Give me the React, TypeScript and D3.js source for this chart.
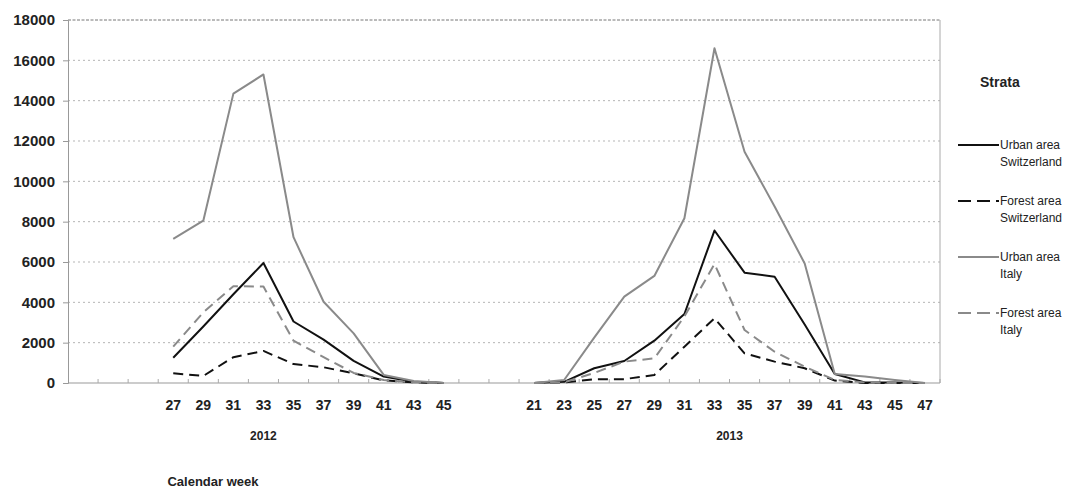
import React, { useRef, useEffect } from 'react';
import * as d3 from 'd3';

// calendar weeks shown per season
const weeks2012 = ['27', '29', '31', '33', '35', '37', '39', '41', '43', '45'];
const weeks2013 = ['21', '23', '25', '27', '29', '31', '33', '35', '37', '39', '41', '43', '45', '47'];

// blank slots on the category axis (no label)
const blanksBefore2012 = ['gap-a', 'gap-b', 'gap-c'];
const blanksBetween = ['gap-d', 'gap-e'];

const yTicks = [0, 2000, 4000, 6000, 8000, 10000, 12000, 14000, 16000, 18000];

// 2012 values
const urbanCH2012 = [1250, 2800, 4400, 5950, 3050, 2150, 1100, 320, 60, 0];
const forestCH2012 = [480, 350, 1280, 1590, 940, 780, 480, 130, 30, 0];
const urbanIT2012 = [7150, 8050, 14350, 15300, 7230, 4030, 2460, 400, 100, 0];
const forestIT2012 = [1800, 3500, 4800, 4780, 2100, 1280, 500, 150, 30, 0];

// 2013 values
const urbanCH2013 = [0, 60, 730, 1090, 2100, 3420, 7560, 5470, 5270, 2900, 450, 30, 20, 0];
const forestCH2013 = [0, 30, 180, 190, 400, 1800, 3210, 1470, 1060, 730, 120, 0, 0, 0];
const urbanIT2013 = [0, 150, 2250, 4280, 5310, 8170, 16600, 11470, 8750, 5930, 450, 320, 150, 0];
const forestIT2013 = [0, 30, 500, 1060, 1220, 3300, 5900, 2630, 1550, 810, 150, 30, 0, 0];

const series = [
  { name: ['Urban area', 'Switzerland'], v2012: urbanCH2012, v2013: urbanCH2013, color: '#111', dash: null },
  { name: ['Forest area', 'Switzerland'], v2012: forestCH2012, v2013: forestCH2013, color: '#111', dash: '10,6' },
  { name: ['Urban area', 'Italy'], v2012: urbanIT2012, v2013: urbanIT2013, color: '#8a8a8a', dash: null },
  { name: ['Forest area', 'Italy'], v2012: forestIT2012, v2013: forestIT2013, color: '#8a8a8a', dash: '10,6' },
];

const W = 1068;
const H = 490;

const App = () => {
  const svgRef = useRef<SVGSVGElement>(null);

  useEffect(() => {
    document.body.style.margin = '0';
    const svg = d3.select(svgRef.current);
    svg.selectAll('*').remove();

    const font = '"Liberation Sans", Arial, sans-serif';
    const left = 68, right = 940, top = 20, bottom = 383;

    const k12 = weeks2012.map(w => '2012-' + w);
    const k13 = weeks2013.map(w => '2013-' + w);
    const domain = [...blanksBefore2012, ...k12, ...blanksBetween, ...k13];

    const x = d3.scaleBand().domain(domain).range([left, right]).padding(0);
    const y = d3.scaleLinear().domain([0, 18000]).range([bottom, top]);
    const bw = x.bandwidth();

    // gridlines
    svg.append('g')
      .selectAll('line')
      .data(yTicks.filter(d => d > 0 && d < 18000))
      .enter().append('line')
      .attr('x1', left).attr('x2', right)
      .attr('y1', d => y(d)).attr('y2', d => y(d))
      .attr('stroke', '#b5b5b5')
      .attr('stroke-dasharray', '2,3');

    // top border (dashed) and right border
    svg.append('line')
      .attr('x1', left).attr('x2', right).attr('y1', y(18000)).attr('y2', y(18000))
      .attr('stroke', '#777').attr('stroke-dasharray', '3,1.5');
    svg.append('line')
      .attr('x1', right).attr('x2', right).attr('y1', top).attr('y2', bottom)
      .attr('stroke', '#aaa');

    // y axis
    const yAxis = svg.append('g')
      .attr('transform', `translate(${left},0)`)
      .call(d3.axisLeft(y).tickValues(yTicks).tickSize(5).tickPadding(8).tickFormat(d3.format('d')));
    yAxis.select('.domain').attr('stroke', '#999');
    yAxis.selectAll('.tick line').attr('stroke', '#999');
    yAxis.selectAll('text')
      .attr('font-family', font).attr('font-size', 15).attr('font-weight', 'bold').attr('fill', '#222');

    // x axis: line, ticks at band boundaries pointing inward
    svg.append('line')
      .attr('x1', left).attr('x2', right).attr('y1', bottom).attr('y2', bottom)
      .attr('stroke', '#999');
    svg.append('g')
      .selectAll('line')
      .data(domain)
      .enter().append('line')
      .attr('x1', d => x(d) + bw).attr('x2', d => x(d) + bw)
      .attr('y1', bottom).attr('y2', bottom - 4)
      .attr('stroke', '#aaa');

    svg.append('g')
      .selectAll('text')
      .data(domain.filter(d => d.startsWith('20')))
      .enter().append('text')
      .attr('x', d => x(d) + bw / 2)
      .attr('y', 410)
      .attr('text-anchor', 'middle')
      .attr('font-family', font).attr('font-size', 14).attr('font-weight', 'bold').attr('fill', '#222')
      .text(d => d.split('-')[1]);

    // year labels
    const years = [
      { label: '2012', from: domain[0], to: k12[k12.length - 1] },
      { label: '2013', from: k13[0], to: k13[k13.length - 1] },
    ];
    svg.append('g')
      .selectAll('text')
      .data(years)
      .enter().append('text')
      .attr('x', d => (x(d.from) + x(d.to) + bw) / 2)
      .attr('y', 440)
      .attr('text-anchor', 'middle')
      .attr('font-family', font).attr('font-size', 12).attr('font-weight', 'bold').attr('fill', '#222')
      .text(d => d.label);

    svg.append('text')
      .attr('x', 213).attr('y', 486)
      .attr('text-anchor', 'middle')
      .attr('font-family', font).attr('font-size', 13).attr('font-weight', 'bold').attr('fill', '#222')
      .text('Calendar week');

    // lines
    const line = d3.line<[string, number]>()
      .x(d => x(d[0]) + bw / 2)
      .y(d => y(d[1]));

    series.forEach(s => {
      [[k12, s.v2012], [k13, s.v2013]].forEach(([keys, vals]) => {
        svg.append('path')
          .datum((keys as string[]).map((k, i) => [k, (vals as number[])[i]] as [string, number]))
          .attr('fill', 'none')
          .attr('stroke', s.color)
          .attr('stroke-width', 2)
          .attr('stroke-dasharray', s.dash)
          .attr('stroke-linejoin', 'round')
          .attr('d', line);
      });
    });

    // legend
    svg.append('text')
      .attr('x', 980).attr('y', 87)
      .attr('font-family', font).attr('font-size', 14).attr('font-weight', 'bold').attr('fill', '#222')
      .text('Strata');

    const lg = svg.append('g')
      .selectAll('g')
      .data(series)
      .enter().append('g')
      .attr('transform', (d, i) => `translate(0,${145 + i * 56})`);
    lg.append('line')
      .attr('x1', 958).attr('x2', 999).attr('y1', 0).attr('y2', 0)
      .attr('stroke', d => d.color)
      .attr('stroke-width', 2)
      .attr('stroke-dasharray', d => (d.dash ? '13,6' : null));
    lg.append('text')
      .attr('x', 1000).attr('y', 4)
      .attr('font-family', font).attr('font-size', 12).attr('fill', '#222')
      .text(d => d.name[0]);
    lg.append('text')
      .attr('x', 1000).attr('y', 21)
      .attr('font-family', font).attr('font-size', 12).attr('fill', '#222')
      .text(d => d.name[1]);
  }, []);

  return (
    <div style={{ position: 'absolute', left: 0, top: 0 }}>
      <svg ref={svgRef} width={W} height={H} style={{ display: 'block', background: '#fff' }} />
    </div>
  );
};

export default App;
